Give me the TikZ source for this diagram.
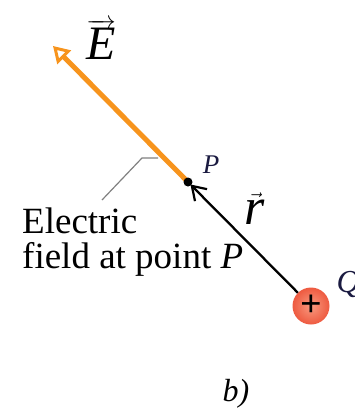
\documentclass[tikz,border=0pt]{standalone}
\usepackage{fontspec}
\setmainfont{Liberation Serif}
\usetikzlibrary{arrows.meta}
\definecolor{fieldorange}{HTML}{F7941D}
\definecolor{chargeRed}{HTML}{EE5A40}
\definecolor{chargeLight}{HTML}{F89A80}
\definecolor{labelnavy}{HTML}{1A1A40}
\begin{document}
\begin{tikzpicture}[x=1pt,y=-1pt,
  fieldline/.style={draw=fieldorange,line width=5pt,-{Triangle[open,length=16pt,width=19pt,line width=3pt]}},
  rline/.style={draw=black,line width=2.3pt,shorten >=3.5pt,-{Straight Barb[length=13pt,width=17pt,line width=2.2pt]}},
  leader/.style={draw=gray,line width=1.2pt},
  txt/.style={inner sep=0pt,font=\fontsize{37}{35}\selectfont,align=left}]
\useasboundingbox (0,0) rectangle (355,408);
% points
\coordinate (P) at (188,182);
\coordinate (Etip) at (53,46);
\node[circle,inner sep=0pt,minimum size=37pt,shading=radial,inner color=chargeLight,outer color=chargeRed] (Q) at (311,306) {};
\node[font=\fontsize{38}{38}\selectfont\bfseries,inner sep=0pt] (plus) at (311,306) {+};
% vectors
\draw[rline] (Q) -- (P);
\draw[fieldline] (P) -- (Etip);
\fill (P) circle (4.5pt);
% leader
\coordinate (L1) at (158,158);
\coordinate (L2) at (142,158);
\coordinate (L3) at (102,200);
\draw[leader] (L1) -- (L2) -- (L3);
% labels
\node[font=\fontsize{48}{48}\selectfont,anchor=base] (Elab) at (101,59) {$\overrightarrow{\textit{E}}$};
\node[font=\fontsize{27}{27}\selectfont\itshape,anchor=base,text=labelnavy] (Plab) at (211,173) {P};
\node[font=\fontsize{52}{52}\selectfont,anchor=base] (rlab) at (255,224) {$\vec{\textit{r}}$};
\node[font=\fontsize{32}{32}\selectfont\itshape,anchor=base west,text=labelnavy] (Qlab) at (333,292) {Q};
\node[txt,anchor=base west] (text) at (22,268) {Electric\\field at point \textit{P}};
\node[font=\fontsize{32}{32}\selectfont\itshape,anchor=base] (blab) at (236,401) {b)};
\end{tikzpicture}
\end{document}
